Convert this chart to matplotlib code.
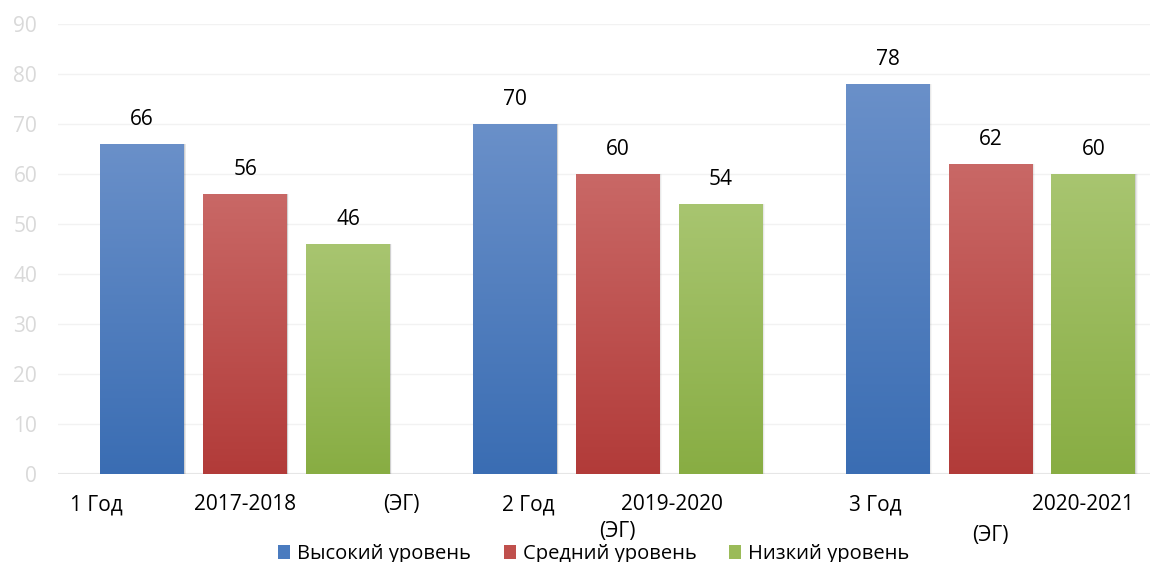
import numpy as np
import matplotlib.pyplot as plt
from matplotlib.colors import LinearSegmentedColormap
from matplotlib.patches import Patch

plt.rcParams['font.family'] = ['Open Sans', 'DejaVu Sans']

groups = [0, 1, 2]
series_names = ["Высокий уровень", "Средний уровень", "Низкий уровень"]
high = [66, 70, 78]
mid = [56, 60, 62]
low = [46, 54, 60]

# axis text: (text, x in data units, row)
cat_texts = ["1 Год", "2017-2018", "(ЭГ)",
             "2 Год", "2019-2020", "(ЭГ)",
             "3 Год", "(ЭГ)", "2020-2021"]
cat_x = [-0.40, 0.0, 0.42, 0.76, 1.146, 1.0, 1.69, 2.0, 2.248]
cat_y = [-6.2, -6.2, -6.2, -6.2, -6.2, -11.6, -6.2, -12.4, -6.2]

# top / bottom colours of each series gradient
tops = ["#6a90c9", "#c96866", "#a8c570"]
bottoms = ["#3a6db3", "#b23b39", "#88ad43"]
legend_colors = ["#4a7bbf", "#c0504d", "#9bbb59"]

fig = plt.figure(figsize=(11.64, 5.62), dpi=100)
ax = fig.add_axes([0.0498, 0.1566, 0.9382, 0.8004])

width = 0.225
pitch = 0.276
x = np.array(groups, dtype=float)

for i, vals in enumerate([high, mid, low]):
    cmap = LinearSegmentedColormap.from_list("g%d" % i, [bottoms[i], tops[i]])
    grad = np.linspace(0, 1, 256).reshape(-1, 1)
    bars = ax.bar(x + (i - 1) * pitch, vals, width, color="none", zorder=3)
    for b, v in zip(bars, vals):
        x0 = b.get_x()
        # soft shadow on the right edge
        for k, a in enumerate([0.10, 0.06, 0.03]):
            ax.bar(x0 + width / 2 + 0.002 * (k + 1), v, width, color="black",
                   alpha=a, zorder=2, linewidth=0)
        im = ax.imshow(grad, extent=[x0, x0 + width, 0, v], origin="lower",
                       cmap=cmap, aspect="auto", zorder=3, interpolation="bicubic")
        im.set_clip_path(b)
        ax.text(x0 + width / 2, v + 5.0, str(v), ha="center", va="center",
                fontsize=15, color="#000000")

ax.set_xlim(-0.502, 2.428)
ax.set_ylim(0, 90)

ax.set_yticks(range(0, 91, 10))
ax.tick_params(axis="y", length=0, labelsize=15, labelcolor="#d9d9d9", pad=15)
ax.set_xticks([])
for s in ax.spines.values():
    s.set_visible(False)
ax.grid(axis="y", color="#f2f2f2", linewidth=1, zorder=0)
ax.axhline(0, color="#e4e4e4", linewidth=1.5, zorder=1)

for t, cx, cy in zip(cat_texts, cat_x, cat_y):
    ax.text(cx, cy, t, ha="center", va="center", fontsize=15,
            color="#000000", clip_on=False)

handles = [Patch(facecolor=c, edgecolor="none") for c in legend_colors]
fig.legend(handles, series_names, loc="lower center", ncol=3, frameon=False,
           bbox_to_anchor=(0.51, -0.036), fontsize=14.5, handlelength=0.6,
           handleheight=0.75, handletextpad=0.35, columnspacing=1.6)

fig.savefig("out.png", dpi=100)
